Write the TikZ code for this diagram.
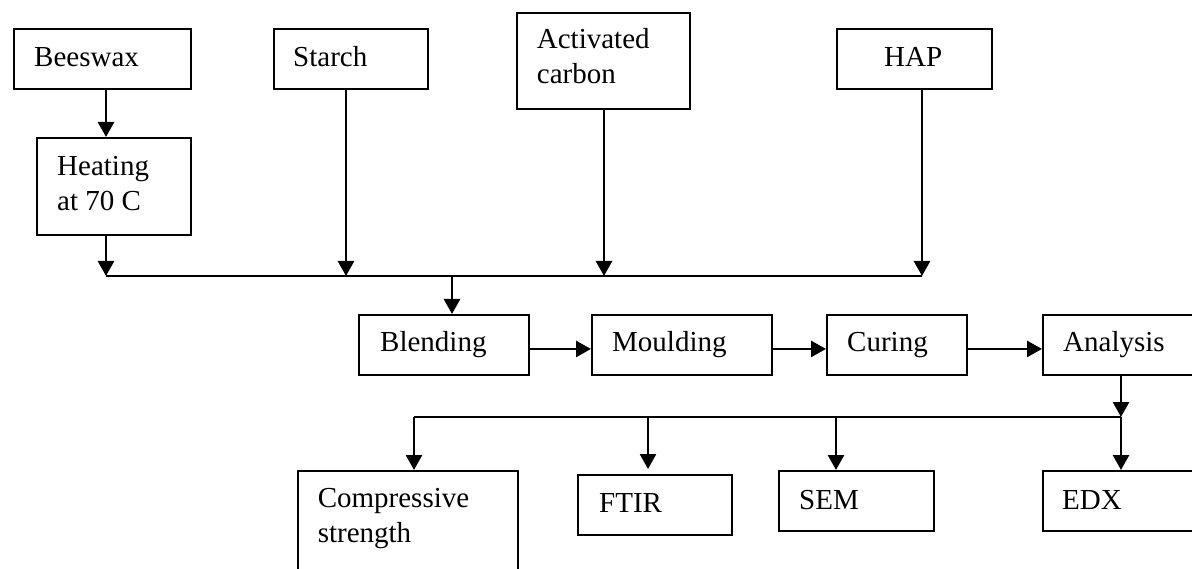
\documentclass[tikz,border=0pt]{standalone}
\usepackage{fontspec}
\setmainfont{Liberation Serif}
\usetikzlibrary{arrows.meta}
\begin{document}
\begin{tikzpicture}[x=1pt,y=-1pt,
  box/.style={draw, line width=1.9pt, inner sep=0pt, anchor=north west},
  txt/.style={inner sep=0pt, font=\fontsize{29}{34.5}\selectfont, align=left},
  arr/.style={line width=2.7pt, -{Triangle[length=15pt,width=16pt]}},
  bus/.style={line width=1.9pt}]
\useasboundingbox (0,0) rectangle (1192,569);
\clip (0,0) rectangle (1192,569);

% raw materials and pre-treatment
\node[box, minimum width=177pt, minimum height=60pt] (bees)   at (13,28)  {};
\node[box, minimum width=154pt, minimum height=97pt] (heat)   at (36,137) {};
\node[box, minimum width=154pt, minimum height=60pt] (starch) at (273,28) {};
\node[box, minimum width=173pt, minimum height=96pt] (acarb)  at (516,12) {};
\node[box, minimum width=155pt, minimum height=60pt] (hap)    at (836,28) {};

\node[txt, anchor=base west] (bees-t)   at (34,66.7)  {Beeswax};
\node[txt, anchor=north west] (heat-t)  at (57,156.2) {Heating\\at 70 C};
\node[txt, anchor=base west] (starch-t) at (293,66.7) {Starch};
\node[txt, anchor=north west] (acarb-t) at (536.7,28.2) {Activated\\carbon};
\node[txt, anchor=base west] (hap-t)    at (884,66.7) {HAP};

% processing chain
\node[box, minimum width=170pt, minimum height=60pt] (blend) at (358,314) {};
\node[box, minimum width=180pt, minimum height=60pt] (mould) at (591,314) {};
\node[box, minimum width=140pt, minimum height=60pt] (cure)  at (826,314) {};
\node[box, minimum width=200pt, minimum height=60pt] (anal)  at (1042,314) {};

\node[txt, anchor=base west] (blend-t) at (380,352)  {Blending};
\node[txt, anchor=base west] (mould-t) at (612,352)  {Moulding};
\node[txt, anchor=base west] (cure-t)  at (847,352)  {Curing};
\node[txt, anchor=base west] (anal-t)  at (1063,352) {Analysis};

% characterisation
\node[box, minimum width=220pt, minimum height=150pt] (comp) at (297,470)  {};
\node[box, minimum width=154pt, minimum height=60pt]  (ftir) at (577,474)  {};
\node[box, minimum width=155pt, minimum height=60pt]  (sem)  at (778,470)  {};
\node[box, minimum width=200pt, minimum height=60pt]  (edx)  at (1042,470) {};

\node[txt, anchor=north west] (comp-t) at (317.6,488.2) {Compressive\\strength};
\node[txt, anchor=base west] (ftir-t) at (599,512)  {FTIR};
\node[txt, anchor=base west] (sem-t)  at (799,509)  {SEM};
\node[txt, anchor=base west] (edx-t)  at (1062,509) {EDX};

% mixing line
\coordinate (mixL) at (106,276);
\coordinate (mixS) at (346,276);
\coordinate (mixB) at (452,276);
\coordinate (mixA) at (604,276);
\coordinate (mixR) at (922,276);
\draw[bus] (mixL) -- (mixR);
\draw[arr] (bees.south -| mixL) -- (heat.north -| mixL);
\draw[arr] (heat.south -| mixL) -- (mixL);
\draw[arr] (starch.south -| mixS) -- (mixS);
\draw[arr] (acarb.south -| mixA) -- (mixA);
\draw[arr] (hap.south -| mixR) -- (mixR);
\draw[arr] (mixB) -- (blend.north -| mixB);

% process arrows
\draw[arr] ([yshift=-4pt]blend.east) -- ([yshift=-4pt]mould.west);
\draw[arr] ([yshift=-4pt]mould.east) -- ([yshift=-4pt]cure.west);
\draw[arr] ([yshift=-4pt]cure.east) -- ([yshift=-4pt]anal.west);

% analysis split
\coordinate (anaD) at (1121,417);
\coordinate (splC) at (414,417);
\coordinate (splF) at (648,417);
\coordinate (splS) at (836,417);
\draw[arr] (anal.south -| anaD) -- (anaD);
\draw[bus] (splC) -- (anaD);
\draw[arr] (splC) -- (comp.north -| splC);
\draw[arr, shorten >=5pt] (splF) -- (ftir.north -| splF);
\draw[arr] (splS) -- (sem.north -| splS);
\draw[arr] (anaD) -- (edx.north -| anaD);
\end{tikzpicture}
\end{document}
